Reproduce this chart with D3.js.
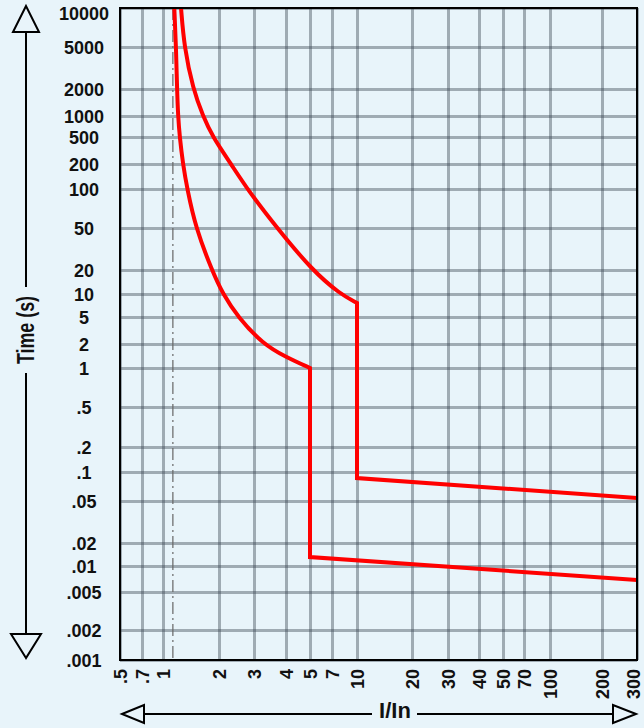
<!DOCTYPE html>
<html>
<head>
<meta charset="utf-8">
<script src="https://cdn.jsdelivr.net/npm/d3@7"></script>
<style>
  html, body { margin: 0; padding: 0; background: #e8f4fa; }
  svg { display: block; }
  text { font-family: "Liberation Sans", Arial, sans-serif; font-weight: bold; fill: #111; }
</style>
</head>
<body>
<svg id="chart" width="644" height="728"></svg>
<script>
// ---------- DATA ----------
const xTickValues = [0.5, 0.7, 1, 2, 3, 4, 5, 7, 10, 20, 30, 40, 50, 70, 100, 200, 300];
const xTickLabels = [".5", ".7", "1", "2", "3", "4", "5", "7", "10", "20", "30", "40", "50", "70", "100", "200", "300"];
const yTickValues = [10000, 5000, 2000, 1000, 500, 200, 100, 50, 20, 10, 5, 2, 1, 0.5, 0.2, 0.1, 0.05, 0.02, 0.01, 0.005, 0.002, 0.001];
const yTickLabels = ["10000", "5000", "2000", "1000", "500", "200", "100", "50", "20", "10", "5", "2", "1", ".5", ".2", ".1", ".05", ".02", ".01", ".005", ".002", ".001"];

// lower trip curve (thermal part, then magnetic step)
const lowerCurve = [[1.15, 10000], [1.175, 5000], [1.19, 2000], [1.205, 1000], [1.23, 500], [1.28, 200], [1.35, 100], [1.5, 50], [1.83, 20], [2.09, 10], [2.49, 5], [3.25, 2], [4, 1.37], [5, 1]];
const lowerTail = [[5, 1], [5, 0.0131], [300, 0.0069]];
// upper trip curve
const upperCurve = [[1.25, 10000], [1.3, 5000], [1.45, 2000], [1.64, 1000], [1.85, 500], [2.3, 200], [2.77, 100], [3.69, 50], [5.15, 20], [7.85, 10], [10, 7.63]];
const upperTail = [[10, 7.63], [10, 0.0866], [300, 0.0537]];
// dash-dot reference line (I/In)
const refLineX = 1.13;

const xTitle = "I/In";
const yTitle = "Time (s)";

// ---------- LAYOUT (graph-paper tick positions, px) ----------
const plot = { left: 120, right: 637, top: 8, bottom: 660 };
const xTickPx = [120, 142, 163, 219, 254, 286, 310, 332, 357, 412, 448, 479, 503, 524, 550, 602, 637];
const yTickPx = [8, 47, 89, 116, 137, 164, 189, 228, 270, 294, 317, 344, 368, 407, 447, 472, 501, 543, 566, 592, 630, 660];

const svg = d3.select("#chart");
svg.append("rect").attr("width", 644).attr("height", 728).attr("fill", "#e8f4fa");

const x = d3.scaleLog().domain(xTickValues).range(xTickPx);
const y = d3.scaleLog().domain(yTickValues).range(yTickPx);

// ---------- GRID ----------
const gridColor = "#3a4650";
const gx = svg.append("g").attr("transform", `translate(0,${plot.bottom})`)
  .call(d3.axisBottom(x).tickValues(xTickValues).tickSize(-(plot.bottom - plot.top)).tickFormat(""));
gx.select(".domain").remove();
gx.selectAll("line").attr("stroke", gridColor).attr("stroke-opacity", 0.42).attr("stroke-width", 3);

const gy = svg.append("g").attr("transform", `translate(${plot.left},0)`)
  .call(d3.axisLeft(y).tickValues(yTickValues).tickSize(-(plot.right - plot.left)).tickFormat(""));
gy.select(".domain").remove();
gy.selectAll("line").attr("stroke", gridColor).attr("stroke-opacity", 0.42).attr("stroke-width", 3);

// dash-dot line
svg.append("line")
  .attr("x1", x(refLineX)).attr("x2", x(refLineX))
  .attr("y1", plot.top).attr("y2", plot.bottom)
  .attr("stroke", "#666").attr("stroke-width", 1.2)
  .attr("stroke-dasharray", "12,4,2,4");

// ---------- CURVES ----------
svg.append("clipPath").attr("id", "clip").append("rect")
  .attr("x", plot.left).attr("y", plot.top)
  .attr("width", plot.right - plot.left).attr("height", plot.bottom - plot.top);

const smooth = d3.line().x(d => x(d[0])).y(d => y(d[1])).curve(d3.curveBasis);
const straight = d3.line().x(d => x(d[0])).y(d => y(d[1]));

function curvePath(c, t) {
  return smooth(c) + straight(t).replace(/^M/, "L");
}
const curves = svg.append("g").attr("clip-path", "url(#clip)");
[[lowerCurve, lowerTail], [upperCurve, upperTail]].forEach(([c, t]) => {
  curves.append("path")
    .attr("d", curvePath(c, t))
    .attr("fill", "none")
    .attr("stroke", "#ff0000")
    .attr("stroke-width", 4)
    .attr("stroke-linejoin", "miter");
});

// ---------- FRAME ----------
svg.append("rect")
  .attr("x", plot.left).attr("y", plot.top)
  .attr("width", plot.right - plot.left).attr("height", plot.bottom - plot.top)
  .attr("fill", "none").attr("stroke", "#000").attr("stroke-width", 2);

// ---------- TICK LABELS ----------
const ay = svg.append("g").attr("transform", `translate(${plot.left},0)`)
  .call(d3.axisLeft(y).tickValues(yTickValues).tickSize(0)
    .tickFormat((d, i) => yTickLabels[i]));
ay.select(".domain").remove();
ay.selectAll("text")
  .attr("x", -36).attr("text-anchor", "middle")
  .attr("dy", (d, i) => i === 0 ? "0.62em" : "0.36em")
  .style("font-size", "18px").style("font-family", "'Liberation Sans', Arial, sans-serif").style("font-weight", "bold").attr("fill", "#111");

const ax = svg.append("g").attr("transform", `translate(0,${plot.bottom})`)
  .call(d3.axisBottom(x).tickValues(xTickValues).tickSize(0)
    .tickFormat((d, i) => xTickLabels[i]));
ax.select(".domain").remove();
ax.selectAll("text")
  .attr("transform", "rotate(-90)")
  .attr("x", -9).attr("y", (d, i) => i === xTickValues.length - 1 ? -4 : 0).attr("dy", "0.36em")
  .attr("text-anchor", "end")
  .style("font-size", "18px").style("font-family", "'Liberation Sans', Arial, sans-serif").style("font-weight", "bold").attr("fill", "#111");

// ---------- AXIS TITLES WITH ARROWS ----------
const arrow = svg.append("g").attr("stroke", "#000").attr("stroke-width", 2).attr("fill", "none");
// vertical
const ax0 = 26;
arrow.append("line").attr("x1", ax0).attr("x2", ax0).attr("y1", 31).attr("y2", 287);
arrow.append("line").attr("x1", ax0).attr("x2", ax0).attr("y1", 373).attr("y2", 634);
arrow.append("path").attr("d", `M${ax0},6 L${ax0 - 13},32 L${ax0 + 13},32 Z`);
arrow.append("path").attr("d", `M${ax0},658 L${ax0 - 15},634 L${ax0 + 15},634 Z`);
svg.append("text")
  .attr("transform", `translate(${ax0 + 8},330) rotate(-90)`)
  .attr("text-anchor", "middle")
  .attr("textLength", 68).attr("lengthAdjust", "spacingAndGlyphs")
  .style("font-size", "23px")
  .text(yTitle);

// horizontal
const ay0 = 714;
arrow.append("line").attr("x1", 144).attr("x2", 372).attr("y1", ay0).attr("y2", ay0);
arrow.append("line").attr("x1", 417).attr("x2", 613).attr("y1", ay0).attr("y2", ay0);
arrow.append("path").attr("d", `M122,${ay0} L144,${ay0 - 9} L144,${ay0 + 9} Z`);
arrow.append("path").attr("d", `M636,${ay0} L613,${ay0 - 9} L613,${ay0 + 9} Z`);
svg.append("text")
  .attr("x", 395).attr("y", 718)
  .attr("text-anchor", "middle")
  .style("font-size", "22px")
  .text(xTitle);
</script>
</body>
</html>
